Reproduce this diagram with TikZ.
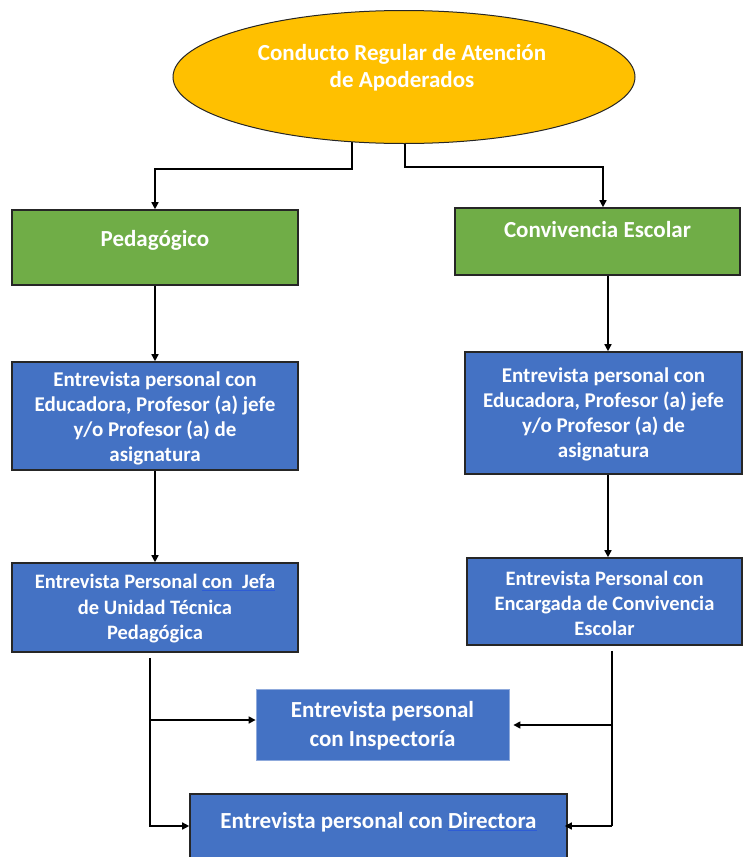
\documentclass[tikz,border=0pt]{standalone}
\usepackage{fontspec}
\setmainfont{Carlito}
\usetikzlibrary{shapes.geometric,arrows.meta,backgrounds}
\definecolor{gold}{HTML}{FFC000}
\definecolor{grn}{HTML}{70AD47}
\definecolor{blu}{HTML}{4472C4}
\definecolor{edge}{HTML}{262626}
\definecolor{ulc}{HTML}{2E5CD6}
\newcommand{\ulx}[1]{{\color{ulc}\underline{\textcolor{white}{#1}}}}
\tikzset{
  box/.style={draw=edge, line width=1.6pt, rectangle, inner sep=0pt},
  greenbox/.style={box, fill=grn},
  bluebox/.style={box, fill=blu},
  lbluebox/.style={draw=blu!60!white, line width=0.8pt, fill=blu, rectangle, inner sep=0pt},
  txt/.style={text=white, font=\bfseries, align=center, inner sep=0pt},
  arr/.style={draw=black, line width=1.5pt, -{Triangle[length=7pt,width=7pt]}},
  ln/.style={draw=black, line width=1.5pt}
}
\begin{document}
\begin{tikzpicture}[x=1pt,y=-1pt]
\useasboundingbox (0,0) rectangle (743,857);
% ellipse
\node[ellipse, draw=edge, line width=1pt, fill=gold, minimum width=462pt, minimum height=133pt, inner sep=0pt] (ell) at (404,77) {};
\node[txt, font=\fontsize{23}{27}\selectfont\bfseries] (tell) at (402,68) {Conducto Regular de Atención\\de Apoderados};
% green boxes
\node[greenbox, minimum width=286pt, minimum height=75pt] (g1) at (155,247.5) {};
\node[txt, font=\fontsize{23}{27}\selectfont\bfseries] (tg1) at (155,240) {Pedagógico};
\node[greenbox, minimum width=285pt, minimum height=67pt] (g2) at (597.5,241.5) {};
\node[txt, font=\fontsize{23}{27}\selectfont\bfseries] (tg2) at (597.5,230) {Convivencia Escolar};
% blue boxes
\node[bluebox, minimum width=286pt, minimum height=108pt] (b1) at (155,416) {};
\node[txt, font=\fontsize{21}{25}\selectfont\bfseries] (tb1) at (155,418) {Entrevista personal con\\Educadora, Profesor (a) jefe\\y/o Profesor (a) de\\asignatura};
\node[bluebox, minimum width=277pt, minimum height=122pt] (b2) at (603.5,413) {};
\node[txt, font=\fontsize{21}{25}\selectfont\bfseries] (tb2) at (603.5,414) {Entrevista personal con\\Educadora, Profesor (a) jefe\\y/o Profesor (a) de\\asignatura};
\node[bluebox, minimum width=286pt, minimum height=89pt] (b3) at (155,607.5) {};
\node[txt, font=\fontsize{20.5}{25.5}\selectfont\bfseries] (tb3) at (155,609) {Entrevista Personal \ulx{con\ \ Jefa}\\de Unidad Técnica\\Pedagógica};
\node[bluebox, minimum width=275pt, minimum height=87pt] (b4) at (604.5,601.5) {};
\node[txt, font=\fontsize{20.5}{25}\selectfont\bfseries] (tb4) at (604.5,603) {Entrevista Personal con\\Encargada de Convivencia\\Escolar};
\node[lbluebox, minimum width=253pt, minimum height=71pt] (b5) at (382.5,724.5) {};
\node[txt, font=\fontsize{23}{29}\selectfont\bfseries] (tb5) at (382.5,726) {Entrevista personal\\con Inspectoría};
\node[bluebox, minimum width=377pt, minimum height=64pt] (b6) at (378.5,826) {};
\node[txt, font=\fontsize{23}{27}\selectfont\bfseries] (tb6) at (378.5,822) {Entrevista personal con \ulx{Directora}};
% connectors
\begin{scope}[on background layer]
\draw[arr] ([xshift=-52pt,yshift=4pt]ell.south) -- ++(0,29) -| (g1.north);
\draw[arr] ([xshift=1pt,yshift=4pt]ell.south) -- ++(0,27) -| ([xshift=5.5pt]g2.north);
\end{scope}
\draw[arr] (g1.south) -- (b1.north);
\coordinate (c2) at ([xshift=10.5pt]g2.south);
\draw[arr] (c2) -- (c2 |- b2.north);
\draw[arr] (b1.south) -- (b3.north);
\coordinate (c4) at ([xshift=4.5pt]b2.south);
\draw[arr] (c4) -- (c4 |- b4.north);
% left trunk
\coordinate (lt) at ([xshift=-5pt,yshift=-5pt]b3.south);
\coordinate (l5) at ([yshift=4.5pt]b5.west);
\draw[arr] (lt) |- (b6.west);
\draw[arr] (lt |- l5) -- (l5);
% right trunk
\coordinate (rt) at ([xshift=7.5pt,yshift=-5pt]b4.south);
\coordinate (r5) at ([xshift=4pt,yshift=-0.5pt]b5.east);
\coordinate (r6) at ([xshift=-3pt]b6.east);
\draw[ln] (rt) -- (rt |- r6);
\draw[arr] (rt |- r5) -- (r5);
\draw[arr] (rt |- r6) -- (r6);
\end{tikzpicture}
\end{document}
